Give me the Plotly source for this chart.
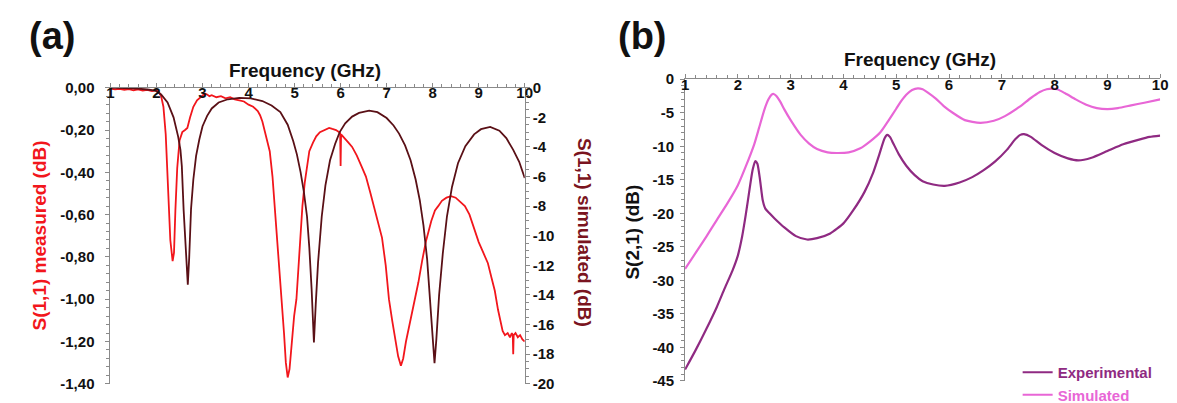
import plotly.graph_objects as go

# ---------------- data ----------------
# Panel (a): S(1,1) measured (left axis, dB)
meas_f = [1.0,1.1,1.2,1.3,1.4,1.5,1.6,1.7,1.8,1.9,2.0,2.05,2.1,2.15,2.2,2.25,2.3,2.35,2.38,2.41,2.45,2.5,2.56,2.62,2.67,2.73,2.8,2.88,2.95,3.0,3.05,3.1,3.15,3.2,3.3,3.4,3.5,3.6,3.7,3.8,3.9,4.0,4.1,4.2,4.25,4.3,4.35,4.4,4.46,4.52,4.57,4.62,4.67,4.72,4.77,4.81,4.85,4.89,4.94,4.99,5.04,5.1,5.17,5.22,5.26,5.32,5.4,5.47,5.55,5.65,5.75,5.82,5.9,5.97,5.99,6.0,6.01,6.03,6.1,6.17,6.25,6.35,6.45,6.55,6.65,6.77,6.9,6.98,7.05,7.12,7.19,7.25,7.31,7.36,7.42,7.48,7.55,7.62,7.69,7.77,7.85,7.97,8.05,8.12,8.2,8.3,8.4,8.5,8.6,8.7,8.8,8.92,9.0,9.1,9.2,9.28,9.35,9.42,9.47,9.52,9.57,9.63,9.68,9.72,9.74,9.75,9.76,9.8,9.85,9.9,9.95,10.0]
meas_s11 = [-0.004,-0.008,-0.005,-0.01,-0.007,-0.012,-0.008,-0.013,-0.01,-0.016,-0.012,-0.02,-0.04,-0.09,-0.22,-0.5,-0.72,-0.82,-0.78,-0.58,-0.38,-0.25,-0.21,-0.2,-0.19,-0.14,-0.09,-0.06,-0.045,-0.035,-0.028,-0.032,-0.04,-0.035,-0.045,-0.04,-0.05,-0.045,-0.055,-0.06,-0.065,-0.08,-0.09,-0.11,-0.13,-0.16,-0.2,-0.24,-0.3,-0.42,-0.56,-0.7,-0.86,-1.0,-1.16,-1.3,-1.37,-1.33,-1.2,-1.08,-1.0,-0.78,-0.56,-0.45,-0.38,-0.3,-0.26,-0.23,-0.21,-0.2,-0.19,-0.195,-0.2,-0.21,-0.215,-0.37,-0.22,-0.225,-0.24,-0.26,-0.28,-0.32,-0.37,-0.42,-0.5,-0.6,-0.71,-0.84,-1.0,-1.1,-1.2,-1.27,-1.315,-1.28,-1.2,-1.14,-1.06,-0.99,-0.92,-0.82,-0.73,-0.63,-0.58,-0.56,-0.535,-0.52,-0.513,-0.52,-0.54,-0.56,-0.6,-0.68,-0.73,-0.78,-0.83,-0.9,-0.96,-1.05,-1.1,-1.15,-1.17,-1.16,-1.18,-1.16,-1.17,-1.26,-1.17,-1.16,-1.18,-1.17,-1.19,-1.2]

# Panel (a): S(1,1) simulated (right axis, dB)
sim11_f = [1.0,1.3,1.6,1.8,1.98,2.1,2.24,2.37,2.47,2.52,2.55,2.59,2.62,2.65,2.68,2.71,2.75,2.8,2.86,2.93,3.0,3.1,3.2,3.35,3.55,3.8,4.05,4.3,4.5,4.69,4.85,4.97,5.05,5.13,5.2,5.27,5.32,5.37,5.42,5.46,5.51,5.59,5.67,5.77,5.88,5.98,6.1,6.25,6.4,6.62,6.8,7.0,7.15,7.27,7.4,7.52,7.63,7.72,7.8,7.88,7.95,8.01,8.04,8.08,8.14,8.22,8.31,8.42,8.55,8.71,8.9,9.05,9.25,9.45,9.6,9.75,9.88,10.0]
sim11_s11 = [0.0,-0.02,-0.06,-0.12,-0.2,-0.45,-1.0,-2.0,-3.3,-4.2,-5.3,-8.3,-10.2,-11.9,-13.3,-11.5,-8.2,-6.2,-4.6,-3.5,-2.6,-1.9,-1.4,-1.0,-0.78,-0.68,-0.72,-0.9,-1.2,-1.65,-2.5,-3.6,-4.5,-5.7,-7.0,-8.7,-10.8,-13.6,-17.2,-14.6,-11.8,-8.7,-6.6,-4.9,-3.8,-3.0,-2.4,-1.95,-1.7,-1.55,-1.65,-2.05,-2.55,-3.1,-3.9,-4.9,-6.2,-7.6,-9.3,-11.6,-14.5,-17.6,-18.6,-17.0,-14.0,-11.2,-8.7,-6.7,-5.1,-3.95,-3.15,-2.8,-2.65,-2.9,-3.4,-4.2,-5.0,-6.1]

# Panel (b): S(2,1)
exp21_f = [1.0,1.2,1.4,1.6,1.75,1.9,2.0,2.08,2.15,2.22,2.28,2.33,2.37,2.42,2.47,2.52,2.6,2.7,2.88,3.1,3.31,3.5,3.75,4.0,4.19,4.4,4.56,4.68,4.78,4.83,4.88,4.94,5.05,5.19,5.35,5.5,5.7,5.92,6.2,6.44,6.65,6.87,7.1,7.25,7.35,7.42,7.55,7.75,8.0,8.25,8.45,8.7,9.0,9.3,9.6,9.8,10.0]
exp21_s21 = [-43.3,-40.4,-37.3,-34.0,-31.2,-28.5,-26.3,-23.5,-20.2,-16.5,-13.5,-12.2,-12.6,-15.0,-18.0,-19.3,-20.0,-20.8,-22.1,-23.4,-23.9,-23.7,-23.0,-21.5,-19.5,-16.8,-14.0,-11.2,-8.8,-8.3,-8.6,-9.5,-11.2,-12.9,-14.3,-15.2,-15.7,-15.9,-15.4,-14.6,-13.6,-12.3,-10.5,-9.0,-8.3,-8.2,-8.6,-9.8,-11.0,-11.8,-12.1,-11.7,-10.7,-9.7,-9.0,-8.6,-8.4]

sim21_f = [1.0,1.2,1.4,1.6,1.81,2.0,2.15,2.31,2.4,2.5,2.58,2.64,2.68,2.73,2.8,2.88,3.0,3.19,3.35,3.5,3.7,3.87,4.1,4.32,4.5,4.7,4.85,5.0,5.1,5.19,5.3,5.41,5.5,5.6,5.75,5.9,6.07,6.3,6.59,6.85,7.06,7.34,7.55,7.72,7.85,7.95,8.05,8.2,8.4,8.6,8.8,9.0,9.2,9.45,9.7,10.0]
sim21_s21 = [-28.3,-25.9,-23.5,-21.0,-18.4,-15.8,-13.0,-9.7,-7.3,-4.6,-3.0,-2.3,-2.2,-2.5,-3.3,-4.5,-6.1,-8.3,-9.6,-10.4,-10.9,-11.0,-10.9,-10.3,-9.3,-7.9,-6.2,-4.4,-3.2,-2.3,-1.6,-1.35,-1.5,-2.0,-2.9,-4.0,-5.0,-6.1,-6.5,-6.2,-5.5,-4.1,-2.8,-1.9,-1.5,-1.4,-1.5,-2.1,-3.0,-3.8,-4.3,-4.45,-4.3,-3.9,-3.5,-3.0]

# tick labels
x_ticks = [1, 2, 3, 4, 5, 6, 7, 8, 9, 10]
y1_ticks = [0, -0.2, -0.4, -0.6, -0.8, -1.0, -1.2, -1.4]
y1_labels = ["0,00", "-0,20", "-0,40", "-0,60", "-0,80", "-1,00", "-1,20", "-1,40"]
y2_ticks = [0, -2, -4, -6, -8, -10, -12, -14, -16, -18, -20]
y2_labels = ["0", "-2", "-4", "-6", "-8", "-10", "-12", "-14", "-16", "-18", "-20"]
y3_ticks = [0, -5, -10, -15, -20, -25, -30, -35, -40, -45]
y3_labels = ["0", "-5", "-10", "-15", "-20", "-25", "-30", "-35", "-40", "-45"]

# ---------------- styles ----------------
FONT = "Liberation Sans, Arial, sans-serif"
RED = "#f2161c"
DARK = "#5a1016"
PURPLE = "#8f2a82"
PINK = "#e866d6"
AXC = "#8a8a8a"
W, H = 1177, 403

def px_x(p):
    return p / W

def px_y(p):
    return 1 - p / H

fig = go.Figure()

fig.add_trace(go.Scatter(x=meas_f, y=meas_s11, mode="lines", line=dict(color=RED, width=1.8),
                         xaxis="x", yaxis="y", showlegend=False))
fig.add_trace(go.Scatter(x=sim11_f, y=sim11_s11, mode="lines", line=dict(color=DARK, width=1.8),
                         xaxis="x", yaxis="y2", showlegend=False))
fig.add_trace(go.Scatter(x=exp21_f, y=exp21_s21, mode="lines", line=dict(color=PURPLE, width=2.2, shape="spline", smoothing=0.6),
                         xaxis="x2", yaxis="y3",
                         name="<span style='color:%s'>Experimental</span>" % PURPLE))
fig.add_trace(go.Scatter(x=sim21_f, y=sim21_s21, mode="lines", line=dict(color=PINK, width=2.2, shape="spline", smoothing=0.6),
                         xaxis="x2", yaxis="y3",
                         name="<span style='color:%s'>Simulated</span>" % PINK))

tickfont = dict(family=FONT, size=15, color="#111", weight="bold")
common_x = dict(range=[1, 10], tickvals=x_ticks, side="top", showline=True, linecolor=AXC, linewidth=1,
                ticks="outside", ticklen=4, tickcolor=AXC, ticklabelposition="inside",
                ticklabeloverflow="allow",
                tickfont=tickfont, showgrid=False, zeroline=False,
                minor=dict(dtick=0.2, ticks="outside", ticklen=3, tickcolor=AXC))

a_left, a_right = px_x(99.5), px_x(518)
a_top, a_bot = px_y(75), px_y(389)
b_left, b_right = px_x(680), px_x(1160)
b_top, b_bot = px_y(66), px_y(386)

fig.update_layout(
    width=W, height=H, margin=dict(l=0, r=0, t=0, b=0),
    paper_bgcolor="white", plot_bgcolor="white",
    font=dict(family=FONT),
    xaxis=dict(domain=[a_left, a_right], anchor="y", **common_x),
    yaxis=dict(domain=[a_bot, a_top], anchor="x", range=[-1.4, 0], tickvals=y1_ticks, ticktext=y1_labels,
               showline=True, linecolor=AXC, ticks="outside", ticklen=4, tickcolor=AXC, tickfont=tickfont,
               ticklabeloverflow="allow", ticklabelstandoff=8,
               showgrid=False, zeroline=False,
               minor=dict(dtick=0.04, ticks="outside", ticklen=3, tickcolor=AXC)),
    yaxis2=dict(overlaying="y", anchor="x", side="right", range=[-20, 0], tickvals=y2_ticks, ticktext=y2_labels,
                showline=True, linecolor=AXC, ticks="outside", ticklen=4, tickcolor=AXC, tickfont=tickfont,
                ticklabeloverflow="allow",
                showgrid=False, zeroline=False,
                minor=dict(dtick=0.5, ticks="outside", ticklen=3, tickcolor=AXC)),
    xaxis2=dict(domain=[b_left, b_right], anchor="y3", **common_x),
    yaxis3=dict(domain=[b_bot, b_top], anchor="x2", range=[-45, 0], tickvals=y3_ticks, ticktext=y3_labels,
                showline=True, linecolor=AXC, ticks="outside", ticklen=4, tickcolor=AXC, tickfont=tickfont,
                ticklabeloverflow="allow", ticklabelstandoff=3,
                showgrid=False, zeroline=False,
                minor=dict(dtick=1, ticks="outside", ticklen=3, tickcolor=AXC)),
    legend=dict(x=px_x(1016), y=px_y(360), xanchor="left", yanchor="top",
                font=dict(family=FONT, size=15, weight="bold"), bgcolor="rgba(0,0,0,0)",
                itemwidth=30, tracegroupgap=0),
)

ann = [
    dict(text="(a)", x=px_x(40), y=px_y(20), font=dict(size=38, color="#111", weight="bold")),
    dict(text="(b)", x=px_x(637), y=px_y(20), font=dict(size=38, color="#111", weight="bold")),
    dict(text="Frequency (GHz)", x=px_x(296), y=px_y(57), font=dict(size=19, color="#111", weight="bold")),
    dict(text="Frequency (GHz)", x=px_x(917), y=px_y(45), font=dict(size=19, color="#111", weight="bold")),
    dict(text="S(1,1) measured (dB)", x=px_x(28), y=px_y(232), textangle=-90,
         font=dict(size=19, color=RED, weight="bold")),
    dict(text="S(1,1) simulated (dB)", x=px_x(578), y=px_y(228), textangle=90,
         font=dict(size=19, color="#7a1420", weight="bold")),
    dict(text="S(2,1) (dB)", x=px_x(627), y=px_y(228), textangle=-90,
         font=dict(size=19, color="#111", weight="bold")),
]
for a in ann:
    a.update(xref="paper", yref="paper", showarrow=False, xanchor="center", yanchor="middle")
    a["font"]["family"] = FONT
fig.update_layout(annotations=ann)

fig.write_html("out.html")
